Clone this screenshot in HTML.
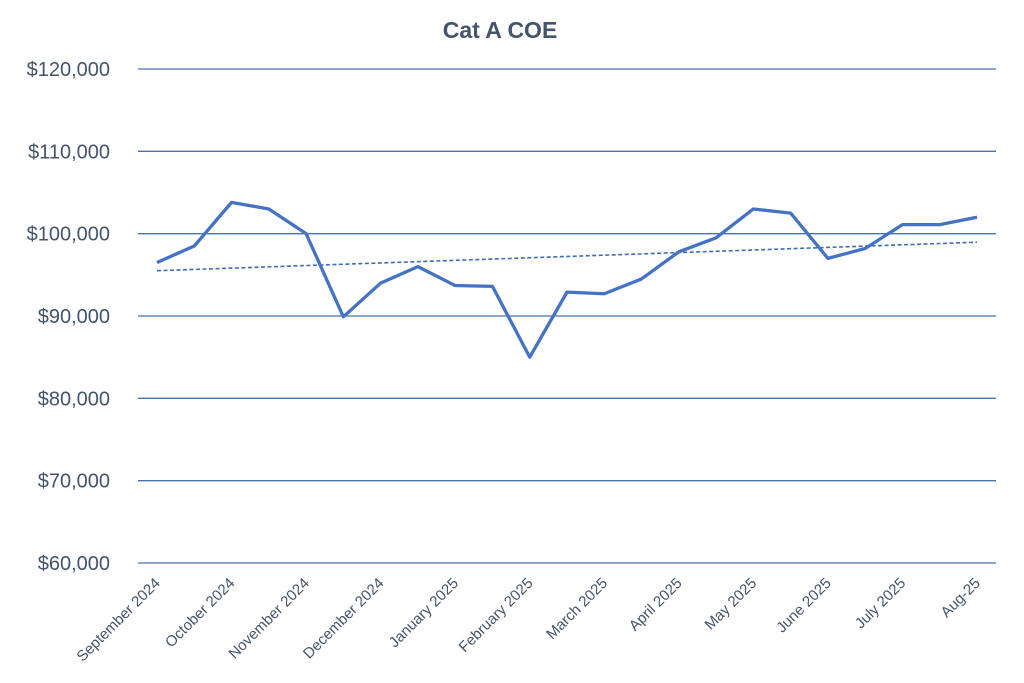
<!DOCTYPE html>
<html><head><meta charset="utf-8"><style>
body{margin:0;background:#fff;}
svg{display:block;font-family:"Liberation Sans",Calibri,sans-serif;}
</style></head><body>
<svg id="chart" width="1024" height="683" xmlns="http://www.w3.org/2000/svg">
<text x="500" y="38" text-anchor="middle" font-size="23" font-weight="bold" fill="#44546a">Cat A COE</text>
<g id="grid"></g><g id="ylabels"></g><g id="xlabels"></g><g id="series"></g>
</svg>
<script>
const values=[96500,98500,103800,103000,100000,89900,94000,96000,93700,93600,85000,92900,92700,94500,97800,99500,103000,102500,97000,98200,101100,101100,102000];
const xLabels=["September 2024","October 2024","November 2024","December 2024","January 2025","February 2025","March 2025","April 2025","May 2025","June 2025","July 2025","Aug-25"];
const yTicks=[60000,70000,80000,90000,100000,110000,120000];
const ns="http://www.w3.org/2000/svg";
function X(i){return 157+i*(977-157)/(values.length-1);}
function Y(v){return 563-(v-60000)*(563-69)/60000;}
function mk(tag,attrs,parent){const e=document.createElementNS(ns,tag);for(const k in attrs)e.setAttribute(k,attrs[k]);document.getElementById(parent).appendChild(e);return e;}
yTicks.forEach(t=>{
 const l=mk('line',{x1:138,x2:996,y1:Y(t),y2:Y(t),stroke:'#4a72a8','stroke-width':1.3},'grid');
 
 
 const tx=mk('text',{x:110,y:Y(t)+7,'text-anchor':'end','font-size':20,fill:'#44546a'},'ylabels');
 tx.textContent='$'+t.toLocaleString('en-US');
 
 
});
xLabels.forEach((s,j)=>{
 const x=X(j*2)+4,y=584;
 const tx=mk('text',{x:x,y:y,'text-anchor':'end','font-size':15,fill:'#44546a',transform:`rotate(-45 ${x} ${y})`},'xlabels');
 tx.textContent=s;
 
 
});
const n=values.length;let sx=0,sy=0,sxx=0,sxy=0;
values.forEach((v,i)=>{sx+=i;sy+=v;sxx+=i*i;sxy+=i*v;});
const b=(n*sxy-sx*sy)/(n*sxx-sx*sx),a=(sy-b*sx)/n;
const tl=mk('line',{x1:X(0),y1:Y(a),x2:X(n-1),y2:Y(a+b*(n-1)),stroke:'#3f6db5','stroke-width':1.6,'stroke-dasharray':'4 2.5'},'series');


const p=mk('polyline',{points:values.map((v,i)=>X(i)+','+Y(v)).join(' '),fill:'none',stroke:'#4472c4','stroke-width':3.3,'stroke-linejoin':'round'},'series');


</script>
</body></html>
